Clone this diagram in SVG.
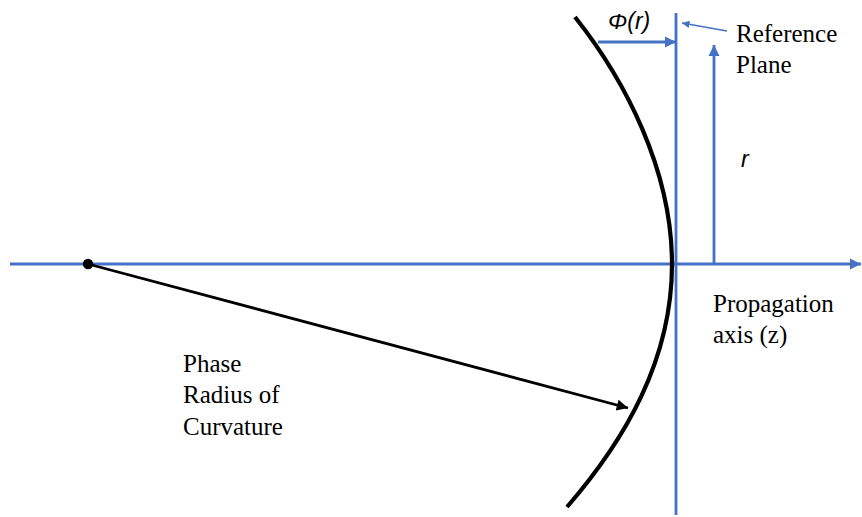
<svg xmlns="http://www.w3.org/2000/svg" width="862" height="517" viewBox="0 0 862 517">
<defs>
<style>
.blue{stroke:#4472C4;fill:none;stroke-width:2.8}
.thin{stroke:#4472C4;fill:none;stroke-width:1.5}
.blk{stroke:#000;fill:none}
.serif{font-family:"Liberation Serif","Times New Roman",serif;font-size:25px;fill:#000}
.ital{font-family:"Liberation Sans",Arial,sans-serif;font-style:italic;font-size:23px;fill:#000}
</style>
<marker id="ab" viewBox="0 0 10 10" refX="10" refY="5" markerWidth="4" markerHeight="4" orient="auto" markerUnits="strokeWidth">
<path d="M0,0 L10,5 L0,10 Z" fill="#4472C4"/>
</marker>
<marker id="abt" viewBox="0 0 10 10" refX="10" refY="5" markerWidth="5" markerHeight="5" orient="auto" markerUnits="strokeWidth">
<path d="M0,0 L10,5 L0,10 Z" fill="#4472C4"/>
</marker>
<marker id="ak" viewBox="0 0 10 10" refX="10" refY="5" markerWidth="4.5" markerHeight="4" orient="auto" markerUnits="strokeWidth">
<path d="M0,0 L10,5 L0,10 Z" fill="#000"/>
</marker>
</defs>
<g id="connectors">
<line id="axis" class="blue" x1="10" y1="264" x2="861" y2="264" marker-end="url(#ab)"/>
<line id="ref-plane" class="blue" x1="676" y1="13" x2="676" y2="515"/>
<line id="phi-arrow" class="blue" x1="598" y1="42" x2="676" y2="42" marker-end="url(#ab)"/>
<line id="r-arrow" class="blue" x1="714" y1="264" x2="714" y2="45" marker-end="url(#ab)"/>
<line id="ref-pointer" class="thin" x1="727" y1="31" x2="682" y2="23" marker-end="url(#abt)"/>
<line id="radius-arrow" class="blk" stroke-width="2.8" x1="88" y1="264" x2="628" y2="408" marker-end="url(#ak)"/>
</g>
<g id="wavefront">
<path class="blk" stroke-width="4.2" d="M575,17 C625,80 672,170 672,264 C672,360 625,440 567,507"/>
</g>
<g id="center">
<circle cx="88" cy="264" r="5.2" fill="#000"/>
</g>
<g id="labels">
<text class="ital" x="608" y="29">Φ(r)</text>
<text class="serif" x="736" y="42">Reference</text>
<text class="serif" x="736" y="73">Plane</text>
<text class="ital" x="741" y="167">r</text>
<text class="serif" x="713" y="312">Propagation</text>
<text class="serif" x="713" y="343">axis (z)</text>
<text class="serif" x="183" y="372">Phase</text>
<text class="serif" x="183" y="403">Radius of</text>
<text class="serif" x="183" y="435">Curvature</text>
</g>
</svg>
